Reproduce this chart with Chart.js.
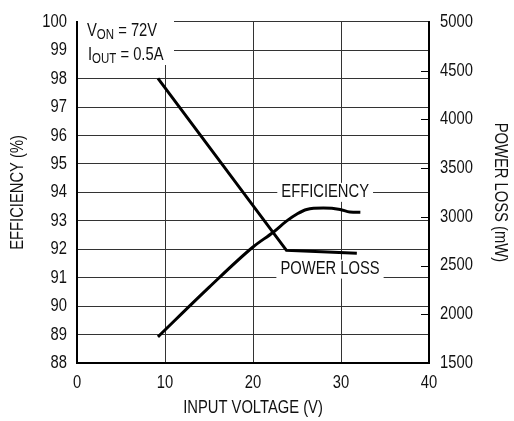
<!DOCTYPE html>
<html>
<head>
<meta charset="utf-8">
<script src="https://cdn.jsdelivr.net/npm/chart.js@4.4.1/dist/chart.umd.min.js"></script>
<style>
  html, body { margin: 0; padding: 0; background: #fff; }
  #wrap { width: 514px; height: 421px; }
</style>
</head>
<body>
<div id="wrap"><canvas id="effChart" width="514" height="421"></canvas></div>
<script>
const FONT = "'Liberation Sans', Arial, sans-serif";
const NARROW = 0.82; // no condensed face installed, so squeeze the text

const effVolts = [9.2, 15, 20, 22.3, 23.8, 25, 26.1, 28, 29.9, 31, 32.2];
const effValues = [88.92, 90.66, 92.08, 92.6, 92.99, 93.24, 93.4, 93.45, 93.4, 93.31, 93.3];
const lossVolts = [9.2, 23.8, 27.8, 31.8];
const lossValues = [4420, 2655, 2640, 2625];

const xTicks = [0, 10, 20, 30, 40];
const effTicks = [88, 100];
const lossTicks = [1500, 5000];

function toPoints(xs, ys){
    return xs.map((x, i) => ({x: x, y: ys[i]}));
}

const condense = {
    id: 'condense',
    beforeInit(chart){
        const ctx = chart.ctx;
        const fill = ctx.fillText.bind(ctx);
        ctx.fillText = function(text, px, py){
            ctx.save();
            ctx.translate(px, py);
            ctx.scale(NARROW, 1);
            fill(text, 0, 0);
            ctx.restore();
        };
    }
};

// white-backed labels sitting on the grid, plus inward ticks on the right axis
const decorations = {
    id: 'decorations',
    afterDraw(chart){
        const ctx = chart.ctx;
        const x = chart.scales.x;
        const y = chart.scales.y;
        const y2 = chart.scales.y2;
        const area = chart.chartArea;

        ctx.save();
        ctx.strokeStyle = '#000';
        ctx.lineWidth = 1;
        for(let v = lossTicks[0] + 500; v < lossTicks[1]; v += 500){
            const py = Math.round(y2.getPixelForValue(v)) + 0.5;
            ctx.beginPath();
            ctx.moveTo(area.right - 8, py);
            ctx.lineTo(area.right, py);
            ctx.stroke();
        }

        ctx.fillStyle = '#fff';
        ctx.fillRect(area.left + 1, 17, 96, 48);
        ctx.fillStyle = '#111';
        ctx.textBaseline = 'alphabetic';
        ctx.textAlign = 'left';

        function subText(px, py, main, sub, rest){
            ctx.font = '18px ' + FONT;
            ctx.fillText(main, px, py);
            px += ctx.measureText(main).width * NARROW;
            ctx.font = '14px ' + FONT;
            ctx.fillText(sub, px, py + 2.5);
            px += ctx.measureText(sub).width * NARROW;
            ctx.font = '18px ' + FONT;
            ctx.fillText(rest, px, py);
        }
        subText(87, 36, 'V', 'ON', ' = 72V');
        subText(88, 60, 'I', 'OUT', ' = 0.5A');

        ctx.font = '18px ' + FONT;
        ctx.textAlign = 'center';
        ctx.textBaseline = 'middle';
        const labels = [
            {text: 'EFFICIENCY', v: 28.2, e: 94.02},
            {text: 'POWER LOSS', v: 28.75, e: 91.32}
        ];
        labels.forEach(l => {
            const cx = x.getPixelForValue(l.v);
            const cy = y.getPixelForValue(l.e);
            const w = ctx.measureText(l.text).width * NARROW + 8;
            ctx.fillStyle = '#fff';
            ctx.fillRect(cx - w / 2, cy - 9, w, 19);
            ctx.fillStyle = '#111';
            ctx.fillText(l.text, cx, cy);
        });
        ctx.restore();
    }
};

new Chart(document.getElementById('effChart'), {
    type: 'scatter',
    data: {
        datasets: [{
            label: 'Efficiency',
            data: toPoints(effVolts, effValues),
            yAxisID: 'y',
            showLine: true,
            borderColor: '#000',
            borderWidth: 3,
            pointRadius: 0,
            cubicInterpolationMode: 'monotone'
        }, {
            label: 'Power Loss',
            data: toPoints(lossVolts, lossValues),
            yAxisID: 'y2',
            showLine: true,
            borderColor: '#000',
            borderWidth: 3,
            pointRadius: 0,
            tension: 0
        }]
    },
    options: {
        responsive: false,
        animation: false,
        layout: { padding: { top: 11, left: 0, right: 0, bottom: 0 } },
        plugins: {
            legend: { display: false },
            tooltip: { enabled: false }
        },
        scales: {
            x: {
                type: 'linear',
                min: xTicks[0],
                max: xTicks[xTicks.length - 1],
                afterBuildTicks: s => { s.ticks = xTicks.map(v => ({value: v})); },
                afterFit: s => { s.height = 58; },
                grid: { color: '#333', lineWidth: 1, drawTicks: false },
                border: { color: '#000', width: 2 },
                ticks: { color: '#111', font: { family: FONT, size: 18 }, padding: 9, maxRotation: 0 },
                title: { display: true, text: 'INPUT VOLTAGE (V)', color: '#111',
                         font: { family: FONT, size: 18 }, padding: { top: 0, bottom: 2 } }
            },
            y: {
                position: 'left',
                min: effTicks[0],
                max: effTicks[1],
                ticks: { stepSize: 1, color: '#111', font: { family: FONT, size: 18 }, padding: 10 },
                afterFit: s => { s.width = 77; },
                grid: { color: '#333', lineWidth: 1, drawTicks: false },
                border: { color: '#000', width: 2 },
                title: { display: true, text: 'EFFICIENCY (%)', color: '#111',
                         font: { family: FONT, size: 18 }, padding: { top: 7, bottom: 0 } }
            },
            y2: {
                position: 'right',
                min: lossTicks[0],
                max: lossTicks[1],
                ticks: { stepSize: 500, color: '#111', font: { family: FONT, size: 18 }, padding: 11,
                         callback: v => String(v) },
                afterFit: s => { s.width = 85; },
                grid: { display: false, drawTicks: false },
                border: { color: '#000', width: 2 },
                title: { display: true, text: 'POWER LOSS (mW)', color: '#111',
                         font: { family: FONT, size: 18 }, padding: { top: 3, bottom: 0 } }
            }
        }
    },
    plugins: [condense, decorations]
});
</script>
</body>
</html>
